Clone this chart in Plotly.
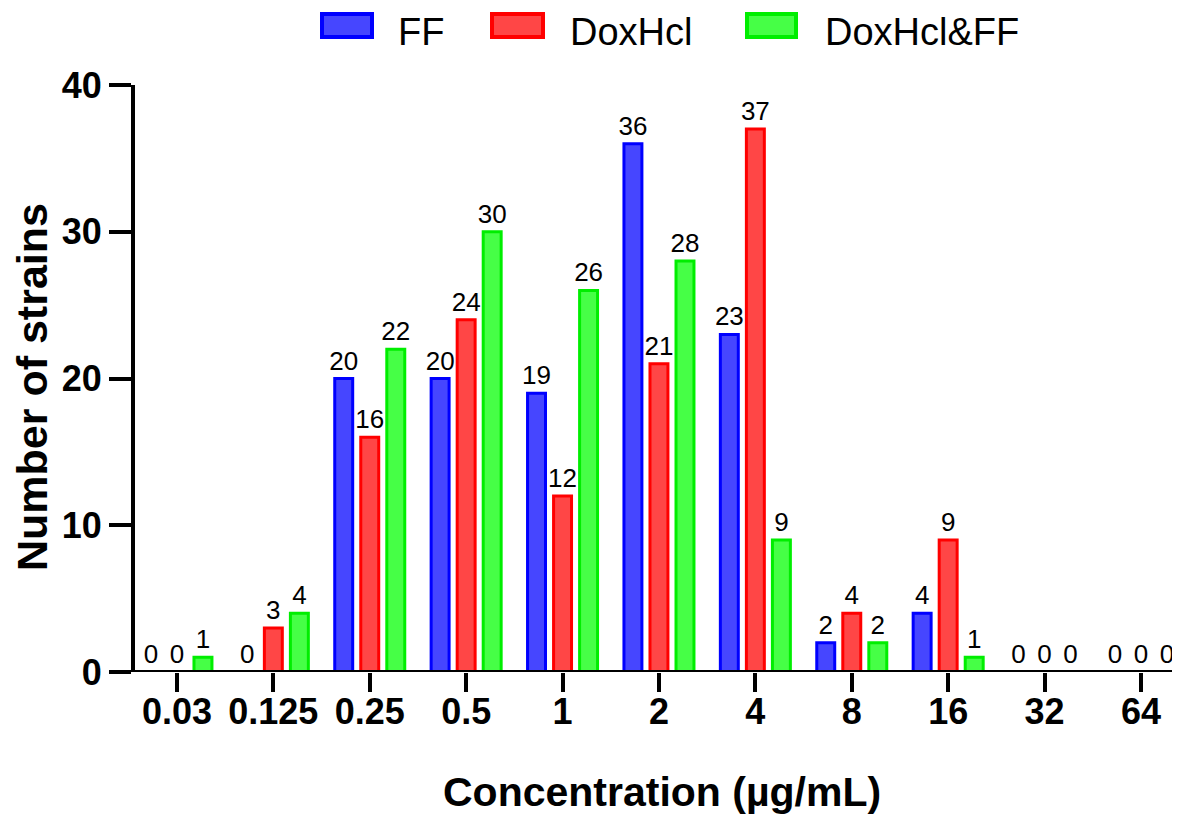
import plotly.graph_objects as go

categories = ["0.03", "0.125", "0.25", "0.5", "1", "2", "4", "8", "16", "32", "64"]
ff = [0, 0, 20, 20, 19, 36, 23, 2, 4, 0, 0]
doxhcl = [0, 3, 16, 24, 12, 21, 37, 4, 9, 0, 0]
dox_ff = [1, 4, 22, 30, 26, 28, 9, 2, 1, 0, 0]
series_names = ["FF", "DoxHcl", "DoxHcl&FF"]

fills = ["#4646ff", "#ff4646", "#46ff46"]
borders = ["#0000ff", "#ff0000", "#00ee00"]

FONT = "Arial, Liberation Sans, sans-serif"
W, H = 1180, 818
ML, MR, MT, MB = 127, 2, 77, 154
PW = W - ML - MR
PH = H - MT - MB

fig = go.Figure()
for name, vals, fc, bc in zip(series_names, [ff, doxhcl, dox_ff], fills, borders):
    fig.add_trace(go.Bar(
        x=categories, y=vals, name=name,
        marker=dict(color=fc, line=dict(color=bc, width=3)),
        text=[str(v) for v in vals], textposition="outside",
        textangle=0, constraintext="none",
        textfont=dict(family=FONT, size=26, color="black"),
        cliponaxis=False, showlegend=False,
    ))

fig.update_layout(
    width=W, height=H,
    margin=dict(l=ML, r=MR, t=MT, b=MB),
    plot_bgcolor="white", paper_bgcolor="white",
    barmode="group", bargap=0.19, bargroupgap=0.31,
    font=dict(family=FONT, color="black"),
)
fig.update_xaxes(
    range=[-0.435, 10.467], showline=False, showgrid=False, zeroline=False,
    ticks="outside", ticklen=19, tickwidth=4, tickcolor="black",
    ticklabelstandoff=-11,
    tickfont=dict(family=FONT, size=36, color="black", weight="bold"),
)
fig.update_yaxes(
    range=[0, 40], tickvals=[0, 10, 20, 30, 40],
    showline=True, linewidth=4, linecolor="black", showgrid=False, zeroline=False,
    ticks="outside", ticklen=22, tickwidth=4, tickcolor="black",
    tickfont=dict(family=FONT, size=36, color="black", weight="bold"),
)

def px(x):
    return (x - ML) / PW

def py(y):
    return (H - MB - y) / PH

# axis titles
fig.add_annotation(xref="paper", yref="paper", x=px(654), y=py(784), text="<b>Concentration (µg/mL)</b>",
                   showarrow=False, xanchor="center", yanchor="middle",
                   font=dict(family=FONT, size=41, color="black"))
fig.add_annotation(xref="paper", yref="paper", x=px(24), y=py(379), text="<b>Number of strains</b>",
                   showarrow=False, xanchor="center", yanchor="middle", textangle=-90,
                   font=dict(family=FONT, size=43, color="black"))

# x axis baseline extending left of the y axis
fig.add_shape(type="line", xref="paper", yref="y", x0=px(105), x1=1, y0=0, y1=0,
              line=dict(color="black", width=4), layer="above")

# custom legend
legend_boxes = [(314, 364), (484, 535), (739, 788)]
legend_text_x = [397, 569, 824]
for (x0, x1), tx, name, fc, bc in zip(legend_boxes, legend_text_x, series_names, fills, borders):
    fig.add_shape(type="rect", xref="paper", yref="paper", x0=px(x0), x1=px(x1), y0=py(29), y1=py(6),
                  fillcolor=fc, line=dict(color=bc, width=4))
    fig.add_annotation(xref="paper", yref="paper", x=px(tx), y=py(24), text=name, showarrow=False,
                       xanchor="left", yanchor="middle", xshift=-9,
                       font=dict(family=FONT, size=38, color="black"))

fig.write_html("out.html")
